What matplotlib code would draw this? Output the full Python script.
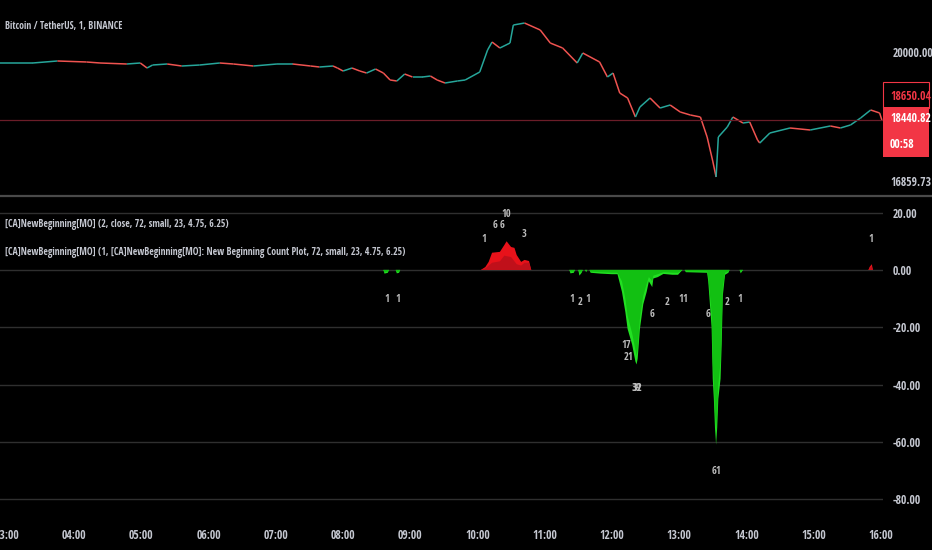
import numpy as np
import matplotlib
matplotlib.use("Agg")
import matplotlib.pyplot as plt
from matplotlib.collections import LineCollection
from matplotlib.lines import Line2D
from matplotlib.patches import Rectangle
from matplotlib.transforms import offset_copy

plt.rcParams['font.family'] = ['Noto Sans Condensed', 'Open Sans Condensed', 'Roboto Condensed',
                               'Liberation Sans Narrow', 'Noto Sans', 'DejaVu Sans']
plt.rcParams['font.stretch'] = 'condensed'

# ── price pane (BTCUSDT 1m) ──────────────────────────────────────
price_times = ["02:54", "03:23", "03:45", "04:11", "04:23", "04:47", "04:59", "05:05", "05:10", "05:23",
               "05:36", "05:52", "06:10", "06:22", "06:40", "07:01", "07:15", "07:31", "07:39", "07:51",
               "07:55", "08:00", "08:08", "08:15", "08:21", "08:29", "08:36", "08:42", "08:48", "08:55",
               "09:02", "09:11", "09:18", "09:24", "09:31", "09:42", "09:49", "10:02", "10:09", "10:13",
               "10:20", "10:29", "10:32", "10:42", "10:56", "11:05", "11:16", "11:29", "11:34", "11:49",
               "11:56", "12:01", "12:07", "12:14", "12:21", "12:25", "12:34", "12:43", "12:52", "13:01",
               "13:10", "13:19", "13:25", "13:30", "13:33", "13:35", "13:43", "13:48", "13:57", "14:03",
               "14:10", "14:12", "14:21", "14:39", "14:57", "15:15", "15:24", "15:33", "15:42", "15:51",
               "15:59", "16:01"]
price_vals = [19748, 19748, 19794, 19771, 19748, 19725, 19748, 19633, 19702, 19725,
              19679, 19702, 19748, 19725, 19679, 19725, 19725, 19679, 19656, 19679,
              19633, 19564, 19633, 19564, 19518, 19610, 19518, 19358, 19335, 19495,
              19427, 19427, 19449, 19358, 19289, 19335, 19358, 19541, 20046, 20229,
              20092, 20206, 20619, 20665, 20505, 20206, 20092, 19748, 19977, 19771,
              19427, 19518, 19059, 18945, 18509, 18738, 18945, 18715, 18784, 18624,
              18555, 18509, 18050, 17500, 17133, 18050, 18280, 18509, 18371, 18394,
              17981, 17912, 18142, 18257, 18211, 18303, 18257, 18326, 18486, 18670,
              18601, 18440]

last_price = 18440.82
scale_labels = ["20000.00", "18650.04", "18440.82", "16859.73"]

# ── oscillator pane: two count plots (bright / dark) ─────────────
osc_times = ["08:36", "08:37", "08:40", "08:41", "08:47", "08:48", "08:50", "08:51",
             "10:03", "10:07", "10:10", "10:13", "10:20", "10:24", "10:26", "10:30", "10:33",
             "10:35", "10:39", "10:42", "10:46", "10:48",
             "11:22", "11:23", "11:26", "11:27", "11:30", "11:31", "11:33", "11:34", "11:36", "11:37",
             "11:38", "11:40", "11:41", "11:50", "12:00", "12:05", "12:09", "12:12", "12:14", "12:18",
             "12:21", "12:22", "12:23", "12:25", "12:28", "12:31", "12:33", "12:36", "12:37", "12:41",
             "12:46", "12:54", "12:59", "13:03", "13:05", "13:06", "13:25", "13:26", "13:29", "13:30",
             "13:31", "13:32", "13:33", "13:34", "13:35", "13:37", "13:38", "13:39", "13:41", "13:44",
             "13:45", "13:54", "13:55", "13:57",
             "15:49", "15:50", "15:52", "15:53"]
osc_bright = [0, -1.3, -1, 0, 0, -1.2, -1, 0,
              0, 1, 2.8, 6, 6.3, 8.7, 10, 8, 7.7,
              5.2, 2.8, 3.5, 3.1, 0,
              0, -1.2, -1, 0, 0, -2, -1, 0, 0, -0.8,
              0, 0, -1, -1.3, -1.5, -1.5, -7.7, -14.7, -20.6, -26,
              -32, -33, -31, -20.6, -12, -7.7, -4, -6, -3, -2.5,
              -1.4, -1.7, -1.7, 0, 0, -0.8, -1, -4, -20, -38,
              -45, -55, -61, -55, -45, -38, -26, -9, -1.7, -1,
              0, 0, -1.2, 0,
              0, 1, 2, 0]
osc_dark = [0, -0.8, -0.6, 0, 0, -0.7, -0.6, 0,
            0, 0.5, 1.5, 2.5, 3, 5, 4.8, 4.5, 3,
            2, 1.5, 2.5, 2.5, 0,
            0, -0.6, -0.6, 0, 0, -1, -0.6, 0, 0, -0.5,
            0, 0, -0.6, -0.8, -1, -1, -4, -10, -16, -22,
            -28, -30, -28, -17, -9, -5, -2.5, -4, -2, -1.5,
            -0.8, -1, -1, 0, 0, -0.5, -0.6, -2.5, -15, -32,
            -40, -50, -56, -50, -40, -32, -20, -6, -1, -0.6,
            0, 0, -0.7, 0,
            0, 0.6, 1.2, 0]

# count labels: time, text, level where it sits
lab_times = ["08:39", "08:49", "10:06", "10:16", "10:22", "10:26", "10:42",
             "11:24", "11:32", "11:39", "12:13", "12:15", "12:22", "12:23", "12:36", "12:49",
             "13:02", "13:05", "13:26", "13:33", "13:43", "13:54", "15:51"]
lab_text = ["1", "1", "1", "6", "6", "10", "3",
            "1", "2", "1", "17", "21", "39", "32", "6", "2",
            "1", "1", "6", "61", "2", "1", "1"]
lab_level = [-1, -1, 1, 6, 6, 10, 3,
             -1, -2, -1, -17, -21, -32, -32, -6, -2,
             -1, -1, -6, -61, -2, -1, 1]

osc_ticks = [20, 0, -20, -40, -60, -80]
hour_ticks = ["03:00", "04:00", "05:00", "06:00", "07:00", "08:00", "09:00", "10:00",
              "11:00", "12:00", "13:00", "14:00", "15:00", "16:00"]


def mins(s):
    h, mm = s.split(":")
    return (int(h) - 3) * 60 + int(mm)


BG = "black"
TXT = "#c4c7d0"
UP, DN = "#26a69a", "#ef5350"
FS = 8.5     # scale / time labels
FT = 7.0     # header lines

fig = plt.figure(figsize=(9.32, 5.5), dpi=100, facecolor=BG)
ax1 = fig.add_axes([0, 355 / 550, 883 / 932, 195 / 550], facecolor=BG)
ax2 = fig.add_axes([0, 38 / 550, 883 / 932, 314 / 550], facecolor=BG)
xl = (-6.25, 782)

# price line, segments coloured by direction
pt = np.array([mins(s) for s in price_times], float)
pv = np.array(price_vals, float)
segs = np.stack([np.column_stack([pt[:-1], pv[:-1]]), np.column_stack([pt[1:], pv[1:]])], axis=1)
cols = [UP if b >= a else DN for a, b in zip(pv[:-1], pv[1:])]
ax1.add_collection(LineCollection(segs, colors=cols, linewidths=1.1))
ax1.axhline(last_price, color="#6b1d28", lw=0.9)
ax1.set_xlim(*xl)
ax1.set_ylim(16720, 21193)
ax1.set_xticks([])
ax1.yaxis.tick_right()
ax1.set_yticks([20000])
ax1.set_yticklabels([scale_labels[0]])
ax1.tick_params(axis="y", length=0, pad=7, labelcolor=TXT, labelsize=FS)
for s in ax1.spines.values():
    s.set_visible(False)
ax1.text(0, 1, "Bitcoin / TetherUS, 1, BINANCE",
         transform=offset_copy(ax1.transAxes, fig=fig, x=5, y=-26, units="dots"),
         color=TXT, fontsize=FT, va="center")

# price scale boxes
fig.patches.append(Rectangle((883 / 932, (550 - 108) / 550), 46 / 932, 26 / 550,
                             transform=fig.transFigure, facecolor=BG, edgecolor="#f23645", lw=0.8))
fig.text(890 / 932, (550 - 96) / 550, scale_labels[1], color="#f23645", fontsize=FS, va="center")
fig.patches.append(Rectangle((883 / 932, (550 - 157) / 550), 46 / 932, 50 / 550,
                             transform=fig.transFigure, facecolor="#f23645", edgecolor="none"))
fig.text(890 / 932, (550 - 118) / 550, scale_labels[2], color="white", fontsize=FS, va="center")
fig.text(890 / 932, (550 - 145) / 550, "00:58", color="white", fontsize=FS, va="center")
fig.text(890 / 932, (550 - 182) / 550, scale_labels[3], color=TXT, fontsize=FS, va="center")

fig.add_artist(Line2D([0, 1], [(550 - 196) / 550] * 2, color="#4a4a4a", lw=1.6))

# oscillator
ot = np.array([mins(s) for s in osc_times], float)
ob = np.array(osc_bright, float)
od = np.array(osc_dark, float)
for y in osc_ticks:
    ax2.axhline(y, color="#2f2f2f", lw=1, zorder=0)
ax2.fill_between(ot, 0, ob, where=ob >= 0, color="#e8121a", lw=0, interpolate=True)
ax2.fill_between(ot, 0, ob, where=ob <= 0, color="#22e022", lw=0, interpolate=True)
ax2.fill_between(ot, 0, od, where=od >= 0, color="#c0101a", lw=0, interpolate=True)
ax2.fill_between(ot, 0, od, where=od <= 0, color="#12c012", lw=0, interpolate=True)

for t, txt, lv in zip(lab_times, lab_text, lab_level):
    off = 19.5 if lv > 0 else -19.5
    ax2.annotate(txt, (mins(t), lv), xytext=(0, off), textcoords="offset points",
                 ha="center", va="center", color="#bcbcbc", fontsize=7.5)

ax2.set_xlim(*xl)
ax2.set_ylim(-84.5, 25.1)
ax2.yaxis.tick_right()
ax2.set_yticks(osc_ticks)
ax2.set_yticklabels([f"{v:.2f}" for v in osc_ticks])
ax2.set_xticks([mins(s) for s in hour_ticks])
ax2.set_xticklabels(hour_ticks)
ax2.tick_params(axis="both", length=0, labelcolor=TXT, labelsize=FS)
ax2.tick_params(axis="y", pad=7)
ax2.tick_params(axis="x", pad=12)
for s in ax2.spines.values():
    s.set_visible(False)

ax2.text(0, 1, "[CA]NewBeginning[MO] (2, close, 72, small, 23, 4.75, 6.25)",
         transform=offset_copy(ax2.transAxes, fig=fig, x=5, y=-27, units="dots"),
         color=TXT, fontsize=FT, va="center")
ax2.text(0, 1, "[CA]NewBeginning[MO] (1, [CA]NewBeginning[MO]: New Beginning Count Plot, 72, small, 23, 4.75, 6.25)",
         transform=offset_copy(ax2.transAxes, fig=fig, x=5, y=-55, units="dots"),
         color=TXT, fontsize=FT, va="center")

plt.savefig("out.png", dpi=100, facecolor=BG)
